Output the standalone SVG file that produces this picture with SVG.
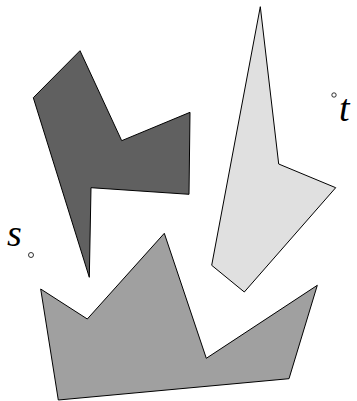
<svg xmlns="http://www.w3.org/2000/svg" width="357" height="401" viewBox="0 0 357 401">
<style>
.poly{stroke:#000;stroke-width:1;stroke-linejoin:miter}
.lbl{font-family:"Liberation Serif","DejaVu Serif",serif;font-style:italic;font-size:38px;fill:#000}
.pt{fill:#fff;stroke:#000;stroke-width:0.8}
</style>
<g id="obstacle-dark"><polygon class="poly" fill="#606060" points="33.3,97.7 80,50.7 121.7,140.7 190,112.3 189,194.3 91,187.7 89.3,277.3"/></g>
<g id="obstacle-light"><polygon class="poly" fill="#e0e0e0" points="260.3,6.7 278.7,164 335.7,187.7 244.3,292 211.7,265.3"/></g>
<g id="obstacle-medium"><polygon class="poly" fill="#a0a0a0" points="40.7,289 87.3,319 164.3,233.3 206.3,358.3 317.3,285.3 289,378.7 58.3,400"/></g>
<g id="s"><circle class="pt" cx="31" cy="255" r="2.5"/><text class="lbl" x="7" y="246">s</text></g>
<g id="t"><circle class="pt" cx="334" cy="95" r="2.2"/><text class="lbl" x="339" y="121" font-size="44">t</text></g>
</svg>
